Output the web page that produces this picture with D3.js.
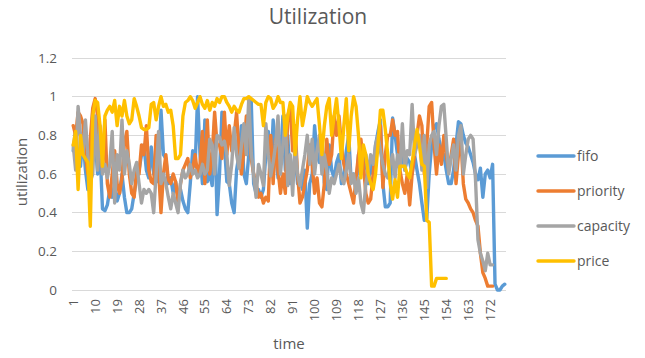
<!DOCTYPE html>
<html>
<head>
<meta charset="utf-8">
<script src="https://cdn.jsdelivr.net/npm/d3@7"></script>
<style>
  html, body { margin: 0; padding: 0; background: #fff; }
  svg { display: block; font-family: "Open Sans", "Noto Sans", sans-serif; }
</style>
</head>
<body>
<svg id="chart" width="645" height="358"></svg>
<script>
// Utilization per time step for four scheduling policies
const fifo = [
  0.72, 0.84, 0.66, 0.64, 0.8, 0.62, 0.52, 0.66, 0.92, 0.78,
  0.6, 0.72, 0.42, 0.41, 0.44, 0.52, 0.48, 0.55, 0.46, 0.5,
  0.6, 0.48, 0.4, 0.4, 0.42, 0.5, 0.58, 0.62, 0.7, 0.75,
  0.62, 0.58, 0.74, 0.6, 0.7, 0.56, 0.93, 0.7, 0.68, 0.55,
  0.58, 0.5, 0.56, 0.48, 0.52, 0.46, 0.42, 0.4, 0.55, 0.72,
  0.64, 1.0, 0.7, 0.55, 0.88, 0.56, 0.6, 0.54, 0.88, 0.39,
  0.6, 0.92, 0.75, 0.56, 0.55, 0.45, 0.4, 0.62, 0.7, 0.85,
  0.6, 0.55, 0.7, 0.98, 0.55, 0.5, 0.52, 0.48, 0.52, 0.7,
  0.82, 0.6, 0.88, 0.72, 0.58, 0.66, 0.9, 0.62, 0.8, 0.55,
  0.6, 0.7, 0.55, 0.58, 0.52, 0.62, 0.32, 0.55, 0.6, 0.85,
  0.7, 0.66, 0.8, 0.55, 0.52, 0.75, 0.62, 0.58, 0.66, 0.7,
  0.55, 0.6, 0.72, 0.8, 0.56, 0.6, 0.52, 0.7, 0.64, 0.62,
  0.7, 0.55, 0.65, 0.6, 0.75, 0.82, 0.88, 0.55, 0.43, 0.43,
  0.45, 0.89, 0.8, 0.7, 0.65, 0.7, 0.62, 0.68, 0.66, 0.6,
  0.7, 0.62, 0.55, 0.45, 0.36, 0.37, 0.6, 0.75, 0.84, 0.86,
  0.78, 0.72, 0.7, 0.62, 0.55, 0.55, 0.62, 0.75, 0.87, 0.86,
  0.8, 0.76, 0.74, 0.7, 0.66, 0.6, 0.57, 0.63, 0.48, 0.6,
  0.62, 0.58, 0.65, 0.03, 0.0, 0.0, 0.02, 0.03
];
const priority = [
  0.85, 0.8, 0.92, 0.9, 0.86, 0.7, 0.6, 0.78, 0.94, 0.99,
  0.9, 0.7, 0.62, 0.88, 0.55, 0.48, 0.6, 0.72, 0.55, 0.5,
  0.58, 0.76, 0.82, 0.6, 0.5, 0.48, 0.62, 0.6, 0.75, 0.7,
  0.85, 0.62, 0.56, 0.55, 0.8, 0.62, 0.4, 0.6, 0.7, 0.57,
  0.55, 0.6, 0.56, 0.45, 0.55, 0.62, 0.65, 0.68, 0.58, 0.63,
  0.7, 0.6, 0.65, 0.82, 0.55, 0.88, 0.6, 0.7, 0.92, 0.75,
  0.75, 0.68, 0.92, 0.7, 0.85, 0.72, 0.8, 0.92, 0.7, 0.6,
  0.72, 0.9, 0.88, 0.68, 0.6, 0.55, 0.48, 0.5, 0.45, 0.48,
  0.46, 0.8, 0.55, 0.78, 0.62, 0.5, 0.6, 0.5, 0.9, 0.95,
  0.72, 0.85, 0.6, 0.45, 0.48, 0.55, 0.62, 0.75, 0.65, 0.5,
  0.58, 0.45, 0.43, 0.55, 0.78, 0.65, 0.7, 0.9, 0.8, 0.9,
  0.75, 0.65, 0.6, 0.55, 0.5, 0.45, 0.58, 0.7, 0.78, 0.65,
  0.5, 0.45, 0.47, 0.6, 0.72, 0.78, 0.85, 0.53, 0.7, 0.8,
  0.8, 0.88, 0.8, 0.82, 0.62, 0.55, 0.5, 0.6, 0.44, 0.6,
  0.7, 0.8, 0.9, 0.85, 0.6, 0.75, 0.95, 0.97, 0.75, 0.6,
  0.75, 0.65, 0.8, 0.7, 0.62, 0.7, 0.78, 0.55, 0.7, 0.78,
  0.55, 0.47, 0.45, 0.42, 0.4, 0.36, 0.33, 0.19, 0.09, 0.06,
  0.02, 0.02, 0.02
];
const capacity = [
  0.75, 0.62, 0.95, 0.8, 0.7, 0.88, 0.7, 0.56, 0.6, 0.9,
  0.62, 0.85, 0.6, 0.65, 0.58, 0.65, 0.82, 0.45, 0.7, 0.62,
  0.88, 0.6, 0.72, 0.65, 0.55, 0.62, 0.66, 0.55, 0.45, 0.52,
  0.5, 0.52, 0.5, 0.4, 0.6, 0.82, 0.55, 0.6, 0.55, 0.48,
  0.42, 0.5, 0.45, 0.4, 0.55, 0.62, 0.58, 0.6, 0.65, 0.6,
  0.62, 0.58, 0.6, 0.65, 0.6, 0.62, 0.78, 0.75, 0.6, 0.8,
  0.79, 0.75, 0.77, 0.7, 0.54, 0.65, 0.84, 0.7, 0.63, 0.75,
  0.86, 0.7, 0.99, 0.71, 0.6, 0.48, 0.65, 0.6, 0.54, 0.86,
  0.7, 0.59, 0.66, 0.75, 0.9, 0.6, 0.75, 0.9, 0.54, 0.7,
  0.49, 0.77, 0.6, 0.54, 0.62, 0.7, 0.8, 0.65, 0.78, 0.6,
  0.72, 0.8, 0.6, 0.7, 0.62, 0.5, 0.58, 0.55, 0.6, 0.65,
  0.58, 0.55, 0.62, 0.7, 0.55, 0.6, 0.5, 0.58, 0.45, 0.4,
  0.55, 0.62, 0.7, 0.65, 0.75, 0.8, 0.72, 0.65, 0.6, 0.58,
  0.65, 0.7, 0.58, 0.7, 0.62, 0.86, 0.62, 0.72, 0.7, 0.96,
  0.7, 0.75, 0.8, 0.62, 0.8, 0.53, 0.75, 0.8, 0.82, 0.7,
  0.85, 0.95, 0.96, 0.78, 0.6, 0.68, 0.75, 0.62, 0.8, 0.85,
  0.6, 0.7, 0.78, 0.8, 0.78, 0.57, 0.26, 0.19, 0.15, 0.1,
  0.19, 0.13, 0.13
];
const price = [
  0.75, 0.82, 0.52, 0.8, 0.7, 0.68, 0.66, 0.33, 0.9, 0.98,
  0.97, 0.85, 0.64, 0.9, 0.93, 0.95, 0.92, 0.98, 0.85, 0.95,
  0.9, 0.98, 0.9, 0.86, 0.88, 0.99, 0.95, 0.9, 0.84, 0.83,
  0.83, 0.84, 0.96, 0.97, 0.88, 0.95, 1.0, 0.95, 0.96, 0.92,
  0.93, 0.85, 0.68, 0.68, 0.7, 0.9, 0.97, 0.98, 1.0, 0.98,
  0.94, 0.97, 1.0, 0.96, 0.94, 0.98, 0.93, 0.97, 0.95, 0.99,
  0.97, 1.0, 1.0, 0.97, 0.95, 0.92, 0.95, 0.93, 0.92, 0.96,
  0.99, 0.99, 1.0, 0.99, 0.98, 0.97, 0.96, 0.96, 0.85, 0.97,
  1.0, 0.99, 0.94, 0.96, 1.0, 0.97, 0.97, 0.8, 0.9, 0.97,
  0.95, 0.7, 0.88, 1.0, 0.85, 0.92, 1.0, 0.97, 0.95, 0.97,
  0.99, 0.85, 0.7, 0.85, 0.95, 0.99, 0.8, 0.9, 0.99, 0.85,
  0.68, 0.85, 0.99, 0.72, 0.9, 1.0, 0.95, 0.8, 0.58, 0.75,
  0.7, 0.6, 0.55, 0.52, 0.6, 0.75, 0.93, 0.93, 0.83, 0.7,
  0.55, 0.47, 0.57, 0.48, 0.64, 0.64, 0.64, 0.6, 0.58, 0.66,
  0.75, 0.83, 0.75, 0.65, 0.64, 0.36, 0.35, 0.02, 0.02, 0.06,
  0.06, 0.06, 0.06, 0.06
];

const seriesNames = ["fifo", "priority", "capacity", "price"];
const seriesColors = ["#5B9BD5", "#ED7D31", "#A5A5A5", "#FFC000"];
const yTicks = [0, 0.2, 0.4, 0.6, 0.8, 1, 1.2];
const categoryCount = 178;
const timeSteps = d3.range(1, categoryCount + 1);
const xTickLabels = timeSteps.filter(t => (t - 1) % 9 === 0);

const series = [fifo, priority, capacity, price].map((values, k) => ({
  name: seriesNames[k],
  color: seriesColors[k],
  values
}));

const svg = d3.select("#chart");
const margin = { left: 72, right: 139, top: 58, bottom: 68 };
const W = 645, H = 358;
const plotW = W - margin.left - margin.right;
const plotH = H - margin.top - margin.bottom;

const x = d3.scaleBand()
  .domain(timeSteps)
  .range([margin.left, margin.left + plotW])
  .paddingInner(0).paddingOuter(0);
const y = d3.scaleLinear().domain([0, 1.2]).range([margin.top + plotH, margin.top]);

const textColor = "#595959";

// horizontal gridlines
svg.append("g")
  .selectAll("line")
  .data(yTicks)
  .join("line")
  .attr("x1", margin.left).attr("x2", margin.left + plotW)
  .attr("y1", d => y(d)).attr("y2", d => y(d))
  .attr("stroke", "#D9D9D9").attr("stroke-width", 1)
  .attr("shape-rendering", "crispEdges");

// y axis labels
const yAxis = d3.axisLeft(y).tickValues(yTicks).tickSize(0).tickPadding(15)
  .tickFormat(d => d3.format("~g")(d));
svg.append("g")
  .attr("transform", `translate(${margin.left},0)`)
  .call(yAxis)
  .call(g => g.select(".domain").remove())
  .call(g => g.selectAll("text")
    .attr("fill", textColor).style("font-size", "13.5px")
    .style("font-family", "'Open Sans', sans-serif"));

// x axis labels, rotated
const xAxis = d3.axisBottom(x).tickValues(xTickLabels).tickSize(0).tickPadding(0);
svg.append("g")
  .attr("transform", `translate(0,${margin.top + plotH})`)
  .call(xAxis)
  .call(g => g.select(".domain").remove())
  .call(g => g.selectAll(".tick text")
    .attr("fill", textColor).style("font-size", "13px")
    .style("font-family", "'Open Sans', sans-serif")
    .attr("text-anchor", "end")
    .attr("dy", "0.35em")
    .attr("transform", "translate(0,9) rotate(-90)")
    .attr("x", 0).attr("y", 0));

// series lines
const line = d3.line()
  .x((d, i) => x(i + 1) + x.bandwidth() / 2)
  .y(d => y(d));

svg.append("g")
  .selectAll("path")
  .data(series)
  .join("path")
  .attr("d", d => line(d.values))
  .attr("fill", "none")
  .attr("stroke", d => d.color)
  .attr("stroke-width", 3.4)
  .attr("stroke-linejoin", "round")
  .attr("stroke-linecap", "round");

// title
svg.append("text")
  .attr("x", 318).attr("y", 24)
  .attr("text-anchor", "middle")
  .attr("fill", textColor)
  .style("font-size", "21px")
  .text("Utilization");

// axis titles
svg.append("text")
  .attr("transform", `translate(27,${margin.top + plotH / 2 - 2}) rotate(-90)`)
  .attr("text-anchor", "middle")
  .attr("fill", textColor)
  .style("font-size", "15px")
  .text("utilization");

svg.append("text")
  .attr("x", margin.left + plotW / 2).attr("y", 349)
  .attr("text-anchor", "middle")
  .attr("fill", textColor)
  .style("font-size", "15px")
  .text("time");

// legend
const legend = svg.append("g");
const legendRows = legend.selectAll("g")
  .data(series)
  .join("g")
  .attr("transform", (d, i) => `translate(538,${156 + i * 35})`);
legendRows.append("line")
  .attr("x1", 0).attr("x2", 36)
  .attr("stroke", d => d.color).attr("stroke-width", 3.4)
  .attr("stroke-linecap", "round");
legendRows.append("text")
  .attr("x", 39).attr("dy", "0.35em")
  .attr("fill", textColor)
  .style("font-size", "14px")
  .text(d => d.name);
</script>
</body>
</html>
